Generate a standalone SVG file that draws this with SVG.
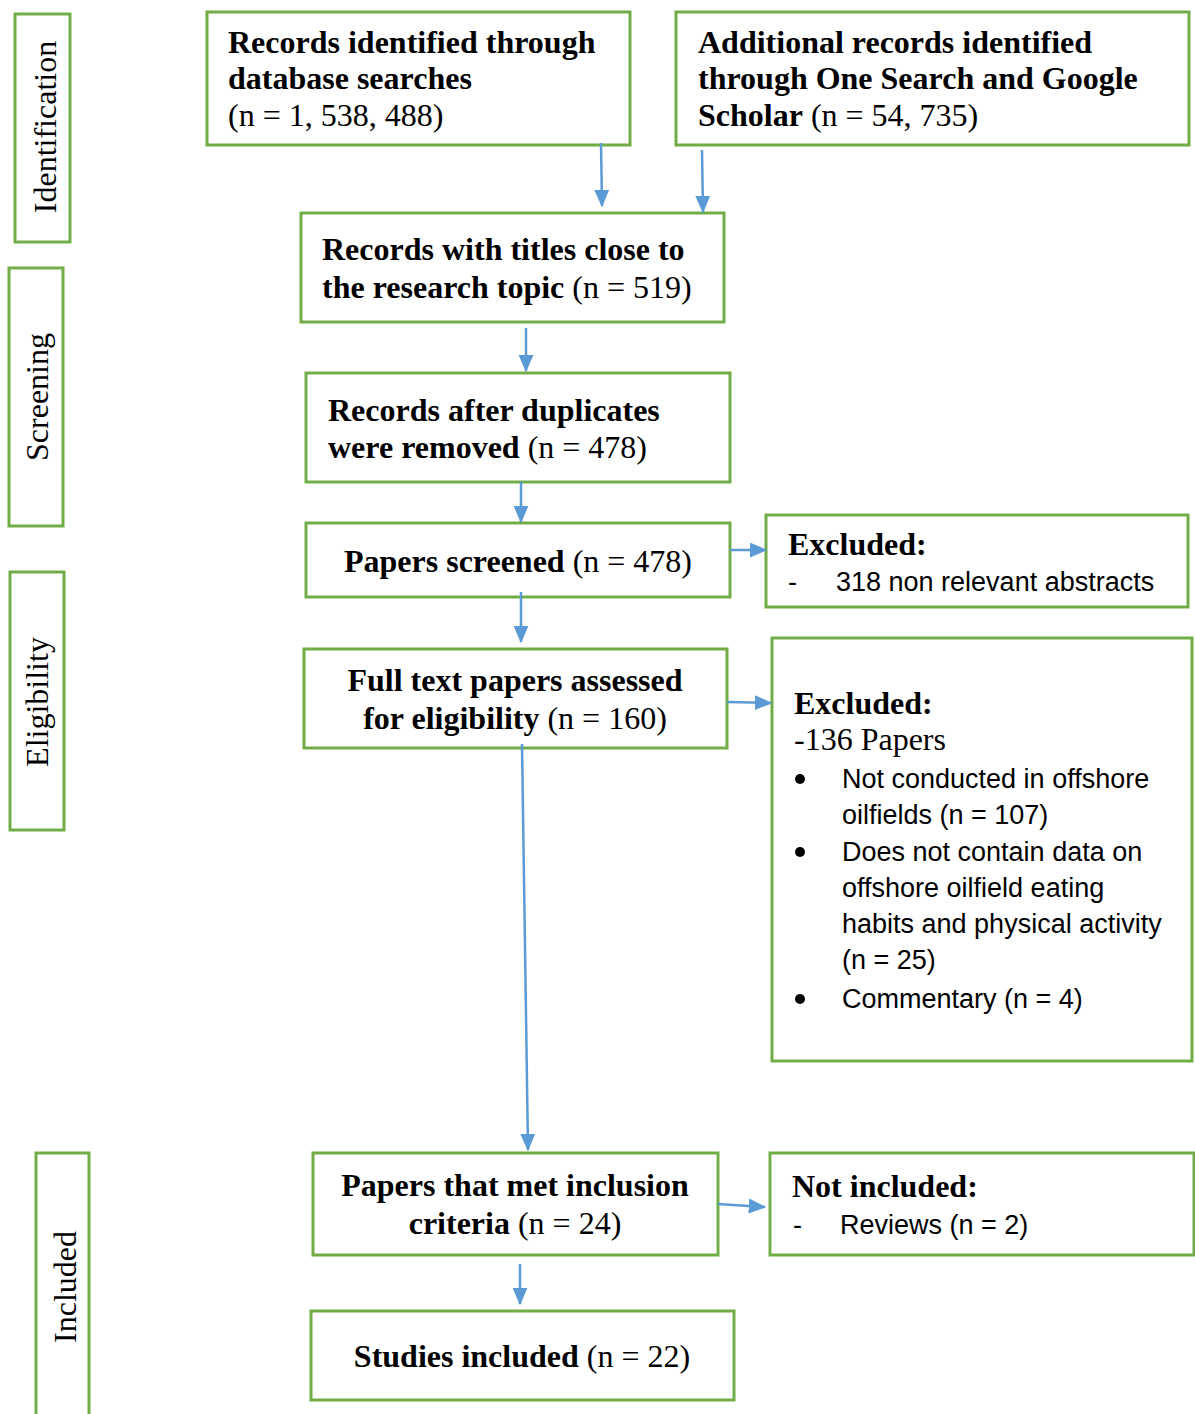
<svg xmlns="http://www.w3.org/2000/svg" width="1195" height="1414" viewBox="0 0 1195 1414">
<style>
.box{fill:#fff;stroke:#70AD47;stroke-width:3}
.t{font-family:"Liberation Serif","Times New Roman",serif;font-size:32px;fill:#000}
.b{font-weight:bold}
.c{font-family:"Liberation Sans",Arial,sans-serif;font-size:27px;fill:#000}
.m{text-anchor:middle}
.arr{stroke:#5B9BD5;stroke-width:2.5;fill:none;marker-end:url(#ah)}
</style>
<defs>
<marker id="ah" markerWidth="7" markerHeight="6" refX="6.5" refY="3" orient="auto" markerUnits="strokeWidth">
<path d="M0,0 L7,3 L0,6 Z" fill="#5B9BD5"/>
</marker>
</defs>
<rect width="1195" height="1414" fill="#fff"/>

<g id="stage-identification">
<rect class="box" x="15" y="14" width="55" height="228"/>
<text class="t" text-anchor="middle" transform="translate(56,127) rotate(-90)">Identification</text>
</g>
<g id="stage-screening">
<rect class="box" x="9" y="268" width="54" height="258"/>
<text class="t" text-anchor="middle" transform="translate(48,397) rotate(-90)">Screening</text>
</g>
<g id="stage-eligibility">
<rect class="box" x="10" y="572" width="54" height="258"/>
<text class="t" text-anchor="middle" transform="translate(48,702) rotate(-90)">Eligibility</text>
</g>
<g id="stage-included">
<rect class="box" x="36" y="1153" width="53" height="270"/>
<text class="t" text-anchor="middle" transform="translate(76,1287) rotate(-90)">Included</text>
</g>

<g id="n-database">
<rect class="box" x="207" y="12" width="423" height="133"/>
<text class="t b" x="228" y="53">Records identified through</text>
<text class="t b" x="228" y="89">database searches</text>
<text class="t" x="228" y="126">(n = 1, 538, 488)</text>
</g>
<g id="n-additional">
<rect class="box" x="676" y="12" width="513" height="133"/>
<text class="t b" x="698" y="53">Additional records identified</text>
<text class="t b" x="698" y="89">through One Search and Google</text>
<text class="t" x="698" y="126"><tspan class="b">Scholar</tspan> (n = 54, 735)</text>
</g>
<g id="n-titles">
<rect class="box" x="301" y="213" width="423" height="109"/>
<text class="t b" x="322" y="260">Records with titles close to</text>
<text class="t" x="322" y="298"><tspan class="b">the research topic</tspan> (n = 519)</text>
</g>
<g id="n-duplicates">
<rect class="box" x="306" y="373" width="424" height="109"/>
<text class="t b" x="328" y="421">Records after duplicates</text>
<text class="t" x="328" y="458"><tspan class="b">were removed</tspan> (n = 478)</text>
</g>
<g id="n-screened">
<rect class="box" x="306" y="523" width="424" height="74"/>
<text class="t m" x="518" y="572"><tspan class="b">Papers screened</tspan> (n = 478)</text>
</g>
<g id="n-excluded1">
<rect class="box" x="766" y="515" width="422" height="92"/>
<text class="t b" x="788" y="555">Excluded:</text>
<text class="c" x="788" y="591">-</text>
<text class="c" x="836" y="591">318 non relevant abstracts</text>
</g>
<g id="n-fulltext">
<rect class="box" x="304" y="649" width="423" height="99"/>
<text class="t b m" x="515" y="691">Full text papers assessed</text>
<text class="t m" x="515" y="729"><tspan class="b">for eligibility</tspan> (n = 160)</text>
</g>
<g id="n-excluded2">
<rect class="box" x="772" y="638" width="420" height="423"/>
<text class="t b" x="794" y="714">Excluded:</text>
<text class="t" x="794" y="750">-136 Papers</text>
<circle cx="800" cy="779" r="5" fill="#000"/>
<text class="c" x="842" y="788">Not conducted in offshore</text>
<text class="c" x="842" y="824">oilfields (n = 107)</text>
<circle cx="800" cy="852" r="5" fill="#000"/>
<text class="c" x="842" y="861">Does not contain data on</text>
<text class="c" x="842" y="897">offshore oilfield eating</text>
<text class="c" x="842" y="933">habits and physical activity</text>
<text class="c" x="842" y="969">(n = 25)</text>
<circle cx="800" cy="999" r="5" fill="#000"/>
<text class="c" x="842" y="1008">Commentary (n = 4)</text>
</g>
<g id="n-inclusion">
<rect class="box" x="313" y="1153" width="405" height="102"/>
<text class="t b m" x="515" y="1196">Papers that met inclusion</text>
<text class="t m" x="515" y="1234"><tspan class="b">criteria</tspan> (n = 24)</text>
</g>
<g id="n-notincluded">
<rect class="box" x="770" y="1153" width="424" height="102"/>
<text class="t b" x="792" y="1197">Not included:</text>
<text class="c" x="793" y="1234">-</text>
<text class="c" x="840" y="1234">Reviews (n = 2)</text>
</g>
<g id="n-studies">
<rect class="box" x="311" y="1311" width="423" height="89"/>
<text class="t m" x="522" y="1367"><tspan class="b">Studies included</tspan> (n = 22)</text>
</g>

<g id="connectors">
<line class="arr" x1="601" y1="143" x2="602" y2="206"/>
<line class="arr" x1="702" y1="150" x2="703" y2="212"/>
<line class="arr" x1="526" y1="328" x2="526" y2="371"/>
<line class="arr" x1="521" y1="482" x2="521" y2="522"/>
<line class="arr" x1="521" y1="592" x2="521" y2="642"/>
<line class="arr" x1="730" y1="550" x2="766" y2="550"/>
<line class="arr" x1="727" y1="702" x2="771" y2="703"/>
<line class="arr" x1="522" y1="744" x2="528" y2="1150"/>
<line class="arr" x1="718" y1="1204" x2="765" y2="1207"/>
<line class="arr" x1="520" y1="1264" x2="520" y2="1304"/>
</g>
</svg>
